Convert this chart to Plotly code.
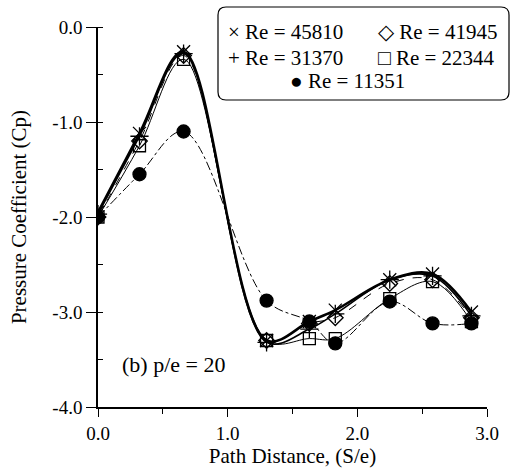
import plotly.graph_objects as go

s_e = [0.0, 0.32, 0.66, 1.30, 1.63, 1.83, 2.25, 2.58, 2.88]

re_labels = ["Re = 45810", "Re = 41945", "Re = 31370", "Re = 22344", "Re = 11351"]
cp_45810 = [-1.95, -1.12, -0.26, -3.30, -3.10, -2.98, -2.66, -2.60, -3.00]
cp_41945 = [-2.00, -1.20, -0.30, -3.30, -3.12, -3.06, -2.70, -2.66, -3.06]
cp_31370 = [-1.97, -1.15, -0.28, -3.32, -3.18, -3.02, -2.66, -2.62, -3.04]
cp_22344 = [-2.00, -1.25, -0.34, -3.30, -3.28, -3.28, -2.86, -2.68, -3.10]
cp_11351 = [-2.00, -1.55, -1.10, -2.88, -3.10, -3.33, -2.89, -3.12, -3.12]

x_ticks = [0.0, 1.0, 2.0, 3.0]
x_tick_text = ["0.0", "1.0", "2.0", "3.0"]
y_ticks = [0.0, -1.0, -2.0, -3.0, -4.0]
y_tick_text = ["0.0", "-1.0", "-2.0", "-3.0", "-4.0"]

series = [
    (cp_45810, "x-thin", 13, dict(width=2.6, dash="solid")),
    (cp_41945, "diamond-open", 12, dict(width=1.0, dash="dash")),
    (cp_31370, "cross-thin", 13, dict(width=1.6, dash="solid")),
    (cp_22344, "square-open", 12, dict(width=1.0, dash="solid")),
    (cp_11351, "circle", 13, dict(width=1.0, dash="dashdot")),
]

L, R, T, B, W, H = 98, 26, 27, 69, 513, 476
PW, PH = W - L - R, H - T - B

def px_to_paper(px, py):
    return ((px - L) / PW, 1 - (py - T) / PH)

fig = go.Figure()
for (vals, sym, size, line), name in zip(series, re_labels):
    fig.add_trace(go.Scatter(
        x=s_e, y=vals, mode="lines+markers", name=name,
        line=dict(color="black", shape="spline", smoothing=1.0, **line),
        marker=dict(symbol=sym, size=size, color="black",
                    line=dict(color="black", width=1.3)),
        showlegend=False,
    ))

serif = "Liberation Serif"

fig.update_layout(
    width=W, height=H,
    margin=dict(l=L, r=R, t=T, b=B),
    paper_bgcolor="white", plot_bgcolor="white",
    font=dict(family=serif, size=18, color="black"),
    xaxis=dict(range=[0, 3.0], tickvals=x_ticks, ticktext=x_tick_text,
               showgrid=False, zeroline=False, showline=True, linecolor="black",
               linewidth=1.5, ticks="outside", ticklen=8, tickcolor="black",
               minor=dict(dtick=0.5, ticks="outside", ticklen=5, tickcolor="black"),
               title=dict(text="Path Distance, (S/e)", font=dict(family=serif, size=21), standoff=6),
               tickfont=dict(family=serif, size=19)),
    yaxis=dict(range=[-4.0, 0.0], tickvals=y_ticks, ticktext=y_tick_text,
               showgrid=False, zeroline=False, showline=True, linecolor="black",
               linewidth=1.5, ticks="outside", ticklen=10, tickcolor="black",
               minor=dict(dtick=0.5, ticks="inside", ticklen=5, tickcolor="black"),
               title=dict(text="Pressure Coefficient (Cp)", font=dict(family=serif, size=21), standoff=20),
               tickfont=dict(family=serif, size=19)),
)

# rounded legend box
def rounded_path(px0, py0, px1, py1, rad):
    def p(x, y):
        fx, fy = px_to_paper(x, y)
        return f"{fx:.5f},{fy:.5f}"
    return (f"M {p(px0 + rad, py0)} L {p(px1 - rad, py0)} Q {p(px1, py0)} {p(px1, py0 + rad)} "
            f"L {p(px1, py1 - rad)} Q {p(px1, py1)} {p(px1 - rad, py1)} "
            f"L {p(px0 + rad, py1)} Q {p(px0, py1)} {p(px0, py1 - rad)} "
            f"L {p(px0, py0 + rad)} Q {p(px0, py0)} {p(px0 + rad, py0)} Z")

fig.add_shape(type="path", xref="paper", yref="paper",
              path=rounded_path(218, 7, 509, 100, 8),
              line=dict(color="black", width=1.2), fillcolor="white", layer="above")

legend_items = [
    ("\u00d7 " + re_labels[0], 226, 32),
    ("\u25c7 " + re_labels[1], 376, 32),
    ("+ " + re_labels[2], 226, 58),
    ("\u25a1 " + re_labels[3], 376, 58),
    ("\u25cf " + re_labels[4], 288, 81),
]
for txt, px, py in legend_items:
    fx, fy = px_to_paper(px, py)
    fig.add_annotation(text=txt, xref="paper", yref="paper", x=fx, y=fy,
                       xanchor="left", yanchor="middle", showarrow=False,
                       font=dict(family=serif, size=21, color="black"))

fig.add_annotation(text="(b) p/e = 20", x=0.17, y=-3.55, xref="x", yref="y",
                   xanchor="left", yanchor="middle", showarrow=False,
                   font=dict(family=serif, size=22, color="black"))

fig.write_html("out.html",
               config={"displayModeBar": False},
               post_script="document.body.style.margin='0';document.body.style.padding='0';document.body.style.overflow='hidden';")
